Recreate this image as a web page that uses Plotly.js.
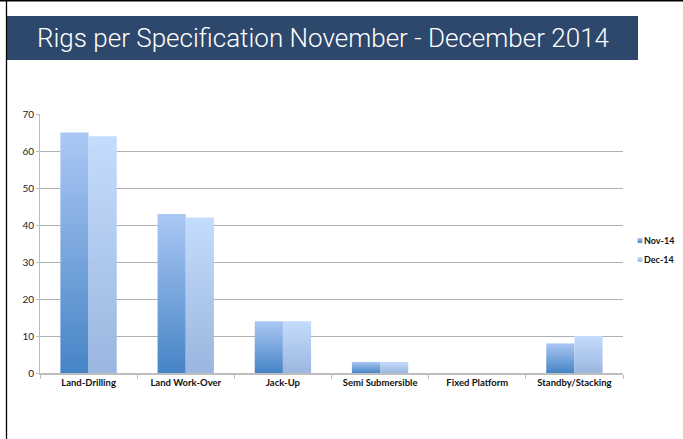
<!DOCTYPE html>
<html>
<head>
<meta charset="utf-8">
<script src="https://cdn.plot.ly/plotly-3.0.1.min.js"></script>
<style>
html,body{margin:0;padding:0;background:#fff;}
#chart{width:683px;height:439px;}
</style>
</head>
<body>
<div id="chart"></div>
<script>
const categories = ["Land-Drilling", "Land Work-Over", "Jack-Up", "Semi Submersible", "Fixed Platform", "Standby/Stacking"];
const nov14 = [65, 43, 14, 3, 0, 8];
const dec14 = [64, 42, 14, 3, 0, 10];
const seriesNames = ["Nov-14", "Dec-14"];
const yTicks = [0, 10, 20, 30, 40, 50, 60, 70];

const W = 683, H = 439;
const L = 40, R = 60, T = 114, B = 66;
const pw = W - L - R, ph = H - T - B;
function px(x){ return (x - L) / pw; }
function py(y){ return (H - B - y) / ph; }

const traces = [
  {type:'bar', name: seriesNames[0], x: categories, y: nov14, marker:{color:'#6f9fd8'}, hoverinfo:'skip'},
  {type:'bar', name: seriesNames[1], x: categories, y: dec14, marker:{color:'#b3ccf0'}, hoverinfo:'skip'}
];

const layout = {
  width: W, height: H,
  margin: {l: L, r: R, t: T, b: B, pad: 0, autoexpand: false},
  paper_bgcolor: '#ffffff',
  plot_bgcolor: '#ffffff',
  barmode: 'group',
  bargap: 0.42,
  bargroupgap: 0,
  showlegend: true,
  font: {family: 'Lato, "DejaVu Sans", sans-serif', size: 9, color: '#222'},
  title: {
    text: 'Rigs per Specification November - December 2014',
    font: {family: 'Roboto, "Open Sans", sans-serif', size: 26, weight: 300, color: '#ffffff'},
    x: 37 / W, xref: 'container', xanchor: 'left',
    y: 1 - 38 / H, yref: 'container', yanchor: 'middle'
  },
  xaxis: {
    type: 'category',
    showgrid: false,
    showline: true, linecolor: '#bdbdbd', linewidth: 2,
    ticks: 'outside', tickson: 'boundaries', ticklen: 4, tickcolor: '#bdbdbd', tickwidth: 1,
    tickfont: {family: 'Lato, sans-serif', size: 9.5, weight: 'bold', color: '#111'},
    zeroline: false, fixedrange: true
  },
  yaxis: {
    range: [0, 70],
    tickvals: yTicks,
    showgrid: true, gridcolor: '#b0b0b0', gridwidth: 1,
    showline: true, linecolor: '#bdbdbd', linewidth: 1,
    ticks: 'outside', ticklen: 3, tickcolor: '#bdbdbd',
    tickfont: {family: 'Lato, sans-serif', size: 10, color: '#222'},
    zeroline: false, fixedrange: true
  },
  legend: {
    x: px(604), xanchor: 'left', xref: 'paper',
    y: py(250), yanchor: 'middle', yref: 'paper',
    font: {family: 'Lato, sans-serif', size: 9, weight: 'bold', color: '#111'},
    bgcolor: 'rgba(0,0,0,0)', borderwidth: 0,
    tracegroupgap: 0, itemwidth: 30
  },
  shapes: [
    {type:'rect', xref:'paper', yref:'paper', x0: px(7), x1: px(638), y0: py(60), y1: py(16),
     fillcolor:'#2d486c', line:{width:0}, layer:'below'},
    {type:'line', xref:'paper', yref:'paper', x0: px(6.5), x1: px(6.5), y0: py(0), y1: py(439),
     line:{color:'#000', width:1.3}},
    {type:'line', xref:'paper', yref:'paper', x0: px(0), x1: px(683), y0: py(0.8), y1: py(0.8),
     line:{color:'#000', width:1.6}}
  ]
};

Plotly.newPlot('chart', traces, layout, {staticPlot: true, displayModeBar: false}).then(function(gd){
  const svg = gd.querySelector('svg.main-svg');
  const ns = 'http://www.w3.org/2000/svg';
  let defs = svg.querySelector('defs');
  if(!defs){ defs = document.createElementNS(ns, 'defs'); svg.insertBefore(defs, svg.firstChild); }
  function grad(id, top, bottom){
    const g = document.createElementNS(ns, 'linearGradient');
    g.setAttribute('id', id);
    g.setAttribute('x1','0'); g.setAttribute('y1','0'); g.setAttribute('x2','0'); g.setAttribute('y2','1');
    const s1 = document.createElementNS(ns,'stop'); s1.setAttribute('offset','0'); s1.setAttribute('stop-color', top);
    const s2 = document.createElementNS(ns,'stop'); s2.setAttribute('offset','1'); s2.setAttribute('stop-color', bottom);
    g.appendChild(s1); g.appendChild(s2); defs.appendChild(g);
  }
  grad('gNov', '#abc8f4', '#4684c6');
  grad('gDec', '#c4dcfd', '#9bb6df');
  const ids = ['gNov', 'gDec'];
  gd.querySelectorAll('.barlayer .trace').forEach(function(tr, i){
    tr.querySelectorAll('path').forEach(function(p){ p.style.fill = 'url(#' + ids[i] + ')'; });
  });
  gd.querySelectorAll('.legend .traces').forEach(function(tr, i){
    tr.querySelectorAll('.legendpoints path').forEach(function(p){
      p.style.fill = 'url(#' + ids[i] + ')';
      p.setAttribute('transform', 'translate(36,0) scale(0.4)');
    });
  });
});
</script>
</body>
</html>
